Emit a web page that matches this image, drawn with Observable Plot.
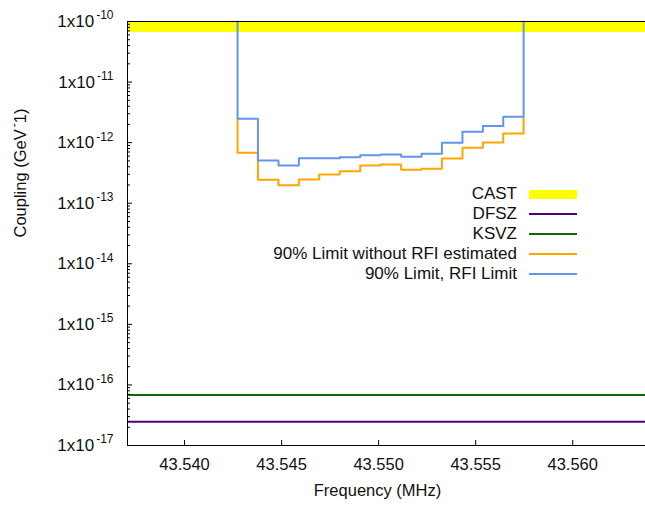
<!DOCTYPE html>
<html><head><meta charset="utf-8">
<script src="https://cdn.jsdelivr.net/npm/d3@7"></script>
<script src="https://cdn.jsdelivr.net/npm/@observablehq/plot@0.6"></script>
<style>
html,body{margin:0;padding:0;background:#fff;}
#wrap{position:relative;width:645px;height:508px;font-family:"Liberation Sans",Arial,sans-serif;color:#111;}
.lg-row{position:absolute;left:0;width:517px;height:20px;line-height:20px;text-align:right;font-size:17px;white-space:nowrap;}
.lg-key{position:absolute;left:529px;width:48px;}
</style></head><body><div id="wrap"></div>
<script>
// ---- data ----
const xDomain = [43.53706, 43.56375];
const yDomain = [1e-17, 1e-10];
const binEdges = [43.54273, 43.54378, 43.54484, 43.54589, 43.54694, 43.54800, 43.54905,
                  43.55010, 43.55116, 43.55221, 43.55326, 43.55432, 43.55537, 43.55642, 43.55747];
const rfiLimit = [2.48e-12, 5.07e-13, 4.2e-13, 5.54e-13, 5.54e-13, 5.75e-13, 6.2e-13,
                  6.37e-13, 5.84e-13, 6.54e-13, 1.0e-12, 1.51e-12, 1.88e-12, 2.67e-12];
const rfiLimitEnds = [1e-10, 1e-10];
const noRfiLimit = [6.8e-13, 2.44e-13, 1.98e-13, 2.46e-13, 2.98e-13, 3.38e-13, 4.2e-13,
                    4.36e-13, 3.58e-13, 3.71e-13, 5.47e-13, 8.25e-13, 1.01e-12, 1.42e-12];
const noRfiLimitEnds = [2.48e-12, 2.55e-12];
const castRange = [6.6e-11, 1e-10];
const dfsz = 2.47e-17;
const ksvz = 6.8e-17;
const xTicks = [43.540, 43.545, 43.550, 43.555, 43.560];
const yDecades = [1e-17, 1e-16, 1e-15, 1e-14, 1e-13, 1e-12, 1e-11, 1e-10];
const xLabel = "Frequency (MHz)";
const yLabel = "Coupling (GeV^{-}1)";
const legendLabels = ["CAST", "DFSZ", "KSVZ", "90% Limit without RFI estimated", "90% Limit, RFI Limit"];
const colors = {cast: "#ffff00", dfsz: "#4b0082", ksvz: "#0d6b0d", noRfi: "#ffa500", rfi: "#6495ed"};

// ---- build step paths ----
function stepPoints(values, ends) {
  const pts = [{f: binEdges[0], g: ends[0]}];
  values.forEach((v, i) => pts.push({f: binEdges[i], g: v}));
  pts.push({f: binEdges[binEdges.length - 1], g: values[values.length - 1]});
  pts.push({f: binEdges[binEdges.length - 1], g: ends[1]});
  return pts;
}
const rfiPts = stepPoints(rfiLimit, rfiLimitEnds);
const noRfiPts = stepPoints(noRfiLimit, noRfiLimitEnds);
const minorTicks = d3.scaleLog().domain(yDomain).ticks()
  .filter(v => Math.abs(Math.log10(v) - Math.round(Math.log10(v))) > 1e-6);
const expFmt = d => "1x10^{" + Math.round(Math.log10(d)) + "}";

const chart = Plot.plot({
  width: 645, height: 508,
  marginLeft: 127, marginRight: 0, marginTop: 21, marginBottom: 63,
  x: {domain: xDomain},
  y: {type: "log", domain: yDomain},
  style: {fontFamily: "'Liberation Sans', Arial, sans-serif", fontSize: "16.5px", color: "#111", background: "transparent", overflow: "visible"},
  marks: [
    Plot.rect([castRange], {x1: () => xDomain[0], x2: () => xDomain[1], y1: d => d[0], y2: d => d[1], fill: colors.cast}),
    Plot.ruleY([dfsz], {stroke: colors.dfsz, strokeWidth: 2}),
    Plot.ruleY([ksvz], {stroke: colors.ksvz, strokeWidth: 2}),
    Plot.line(noRfiPts, {x: "f", y: "g", curve: "step-after", stroke: colors.noRfi, strokeWidth: 2}),
    Plot.line(rfiPts, {x: "f", y: "g", curve: "step-after", stroke: colors.rfi, strokeWidth: 2}),
    Plot.axisY(yDecades, {anchor: "left", tickSize: 0, tickPadding: 14, tickFormat: expFmt, label: null, fontSize: 17}),
    Plot.axisY(yDecades, {anchor: "left", tickSize: 5, dx: 5, fill: "none", label: null, stroke: "#000"}),
    Plot.axisY(minorTicks, {anchor: "left", tickSize: 3, dx: 3, fill: "none", label: null, stroke: "#000"}),
    Plot.axisX(xTicks, {anchor: "bottom", tickSize: 0, tickPadding: 13, tickFormat: d3.format(".3f"), label: null}),
    Plot.axisX(xTicks, {anchor: "bottom", tickSize: 5, dy: -5, fill: "none", label: null, stroke: "#000"}),
    Plot.text([xLabel], {text: d => d, frameAnchor: "bottom", dy: 50, dx: -9, fill: "#111"}),
    Plot.text([yLabel], {text: d => d, frameAnchor: "left", rotate: -90, dx: -107, dy: 4, fill: "#111"}),
    Plot.ruleX([xDomain[0]], {stroke: "#000"}),
    Plot.ruleY([yDomain[0]], {stroke: "#000"}),
    Plot.ruleY([yDomain[1]], {stroke: "#000"})
  ]
});

// superscripts (gnuplot-style ^{...})
chart.querySelectorAll("text").forEach(t => {
  const m = /^(.*?)\^\{(.*?)\}(.*)$/.exec(t.textContent);
  if (!m) return;
  t.textContent = m[1];
  const sup = document.createElementNS("http://www.w3.org/2000/svg", "tspan");
  sup.setAttribute("dy", "-7.5");
  sup.setAttribute("dx", "2");
  sup.setAttribute("font-size", "12px");
  sup.textContent = m[2];
  t.appendChild(sup);
  if (m[3]) {
    const rest = document.createElementNS("http://www.w3.org/2000/svg", "tspan");
    rest.setAttribute("dy", "7.5");
    rest.textContent = m[3];
    t.appendChild(rest);
  }
});

const wrap = document.getElementById("wrap");
wrap.appendChild(chart);

// legend overlay
const keyStyles = [
  {c: colors.cast, h: 9}, {c: colors.dfsz, h: 2}, {c: colors.ksvz, h: 2},
  {c: colors.noRfi, h: 2}, {c: colors.rfi, h: 2}
];
legendLabels.forEach((lab, i) => {
  const cy = 194 + i * 20.1;
  const row = document.createElement("div");
  row.className = "lg-row";
  row.style.top = (cy - 10.5) + "px";
  row.textContent = lab;
  wrap.appendChild(row);
  const key = document.createElement("div");
  key.className = "lg-key";
  key.style.top = (cy - keyStyles[i].h / 2) + "px";
  key.style.height = keyStyles[i].h + "px";
  key.style.background = keyStyles[i].c;
  wrap.appendChild(key);
});
</script></body></html>
